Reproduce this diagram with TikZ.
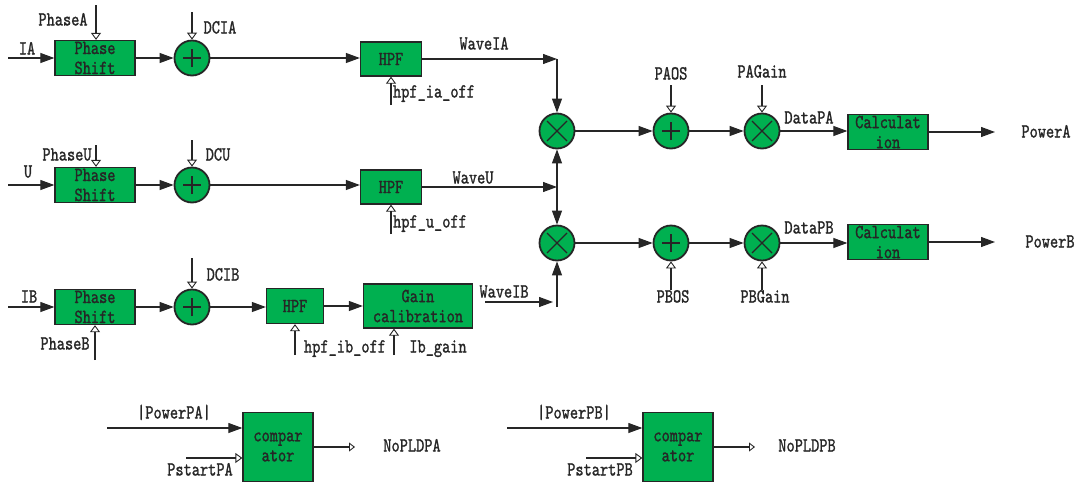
\documentclass[tikz,border=0pt]{standalone}
\usepackage{fontspec}
\newfontfamily\diagramfont{lmmono10-regular.otf}[FakeStretch=0.78,FakeBold=1.2]
\usepackage{xcolor}
\definecolor{colorBlock}{RGB}{0,176,80}
\colorlet{colorLine}{black!85}
\usetikzlibrary{arrows.meta, positioning}
\tikzset{
  block/.style={draw, line width=1.3pt, fill=colorBlock, inner sep=0pt, align=center},
  sum/.style={circle, draw, line width=1.8pt, fill=colorBlock, minimum size=35pt, inner sep=0pt,
    path picture={\draw[line width=1.6pt] ([xshift=-9pt]path picture bounding box.center) -- ([xshift=9pt]path picture bounding box.center) ([yshift=-9pt]path picture bounding box.center) -- ([yshift=9pt]path picture bounding box.center);}},
  mult/.style={circle, draw, line width=1.8pt, fill=colorBlock, minimum size=35pt, inner sep=0pt,
    path picture={\draw[line width=1.3pt] ([shift={(-10pt,-10pt)}]path picture bounding box.center) -- ([shift={(10pt,10pt)}]path picture bounding box.center) ([shift={(-10pt,10pt)}]path picture bounding box.center) -- ([shift={(10pt,-10pt)}]path picture bounding box.center);}},
  lbl/.style={inner sep=0pt, text height=11pt, text depth=0pt},
  openarrow/.style={-{Triangle[open, length=7pt, width=10pt, line width=0.9pt]}}
}

\begin{document}
\begin{tikzpicture}[x=1pt, y=-1pt, color=colorLine, line width=1.1pt, font=\diagramfont\fontsize{20}{20}\selectfont, >={Triangle[length=14pt, width=10pt]}]
\useasboundingbox (0,0) rectangle (1079,485);
\node[block, minimum width=80pt, minimum height=35pt] (psA) at (95,58) {Phase\\Shift};
\node[block, minimum width=80pt, minimum height=35pt] (psU) at (95,185) {Phase\\Shift};
\node[block, minimum width=80pt, minimum height=35pt] (psB) at (95,307) {Phase\\Shift};
\node[sum] (sumA) at (192,58) {};
\node[sum] (sumU) at (192,185) {};
\node[sum] (sumB) at (192,307) {};
\node[block, minimum width=61pt, minimum height=34pt] (hpfA) at (391,59) {HPF};
\node[block, minimum width=61pt, minimum height=34pt] (hpfU) at (391,187) {HPF};
\node[block, minimum width=57pt, minimum height=35pt] (hpfB) at (295,306) {HPF};
\node[block, minimum width=109pt, minimum height=44pt] (gainB) at (418,306) {Gain\\calibration};
\node[mult] (mulA) at (557,131) {};
\node[mult] (mulB) at (557,243) {};
\node[sum] (sumPA) at (671,131) {};
\node[sum] (sumPB) at (671,243) {};
\node[mult] (mulPA) at (762,131) {};
\node[mult] (mulPB) at (762,243) {};
\node[block, minimum width=80pt, minimum height=35pt] (calcA) at (888,132) {Calculat\\ion};
\node[block, minimum width=80pt, minimum height=35pt] (calcB) at (888,242) {Calculat\\ion};
\node[block, minimum width=70pt, minimum height=69pt] (compA) at (278,447) {compar\\ator};
\node[block, minimum width=70pt, minimum height=69pt] (compB) at (678,447) {compar\\ator};
\coordinate (inIA) at (8,58);
\coordinate (inU) at (8,185);
\coordinate (inIB) at (8,307);
\coordinate (srcPhaseA) at (96,5);
\coordinate (srcPhaseU) at (96,145);
\coordinate (srcPhaseB) at (95,360);
\coordinate (srcDCIA) at (192,12);
\coordinate (srcDCU) at (192,140);
\coordinate (srcDCIB) at (192,258);
\coordinate (srcHpfA) at (391,105);
\coordinate (srcHpfU) at (391,234);
\coordinate (srcHpfB) at (295,355);
\coordinate (srcIbGain) at (394,355);
\coordinate (cornerA) at (557,59);
\coordinate (joinU) at (557,187);
\coordinate (srcWaveIB) at (485,302);
\coordinate (endWaveIB) at (553,302);
\coordinate (footB) at (557,307);
\coordinate (srcPAOS) at (671,85);
\coordinate (srcPAGain) at (762,85);
\coordinate (srcPBOS) at (671,290);
\coordinate (srcPBGain) at (762,290);
\coordinate (outA) at (995,132);
\coordinate (outB) at (995,242);
\coordinate (srcPowPA) at (107,428);
\coordinate (srcStartPA) at (186,458);
\coordinate (outNoA) at (355,447);
\coordinate (srcPowPB) at (507,428);
\coordinate (srcStartPB) at (586,458);
\coordinate (outNoB) at (755,447);
\node[lbl] (tIA) at (27,49) {IA};
\node[lbl] (tU) at (28,172) {U};
\node[lbl] (tIB) at (29,297) {IB};
\node[lbl] (tPhaseA) at (63,20) {PhaseA};
\node[lbl] (tPhaseU) at (67,155) {PhaseU};
\node[lbl] (tPhaseB) at (65,344) {PhaseB};
\node[lbl] (tDCIA) at (220,28) {DCIA};
\node[lbl] (tDCU) at (218,155) {DCU};
\node[lbl] (tDCIB) at (223,275) {DCIB};
\node[lbl] (tHpfA) at (434,92) {hpf\_ia\_off};
\node[lbl] (tHpfU) at (430,222) {hpf\_u\_off};
\node[lbl] (tHpfB) at (345,347) {hpf\_ib\_off};
\node[lbl] (tIbGain) at (438,347) {Ib\_gain};
\node[lbl] (tWaveIA) at (484,44) {WaveIA};
\node[lbl] (tWaveU) at (473,178) {WaveU};
\node[lbl] (tWaveIB) at (504,292) {WaveIB};
\node[lbl] (tPAOS) at (671,74) {PAOS};
\node[lbl] (tPAGain) at (762,72) {PAGain};
\node[lbl] (tPBOS) at (673,297) {PBOS};
\node[lbl] (tPBGain) at (765,297) {PBGain};
\node[lbl] (tDataPA) at (809,118) {DataPA};
\node[lbl] (tDataPB) at (809,228) {DataPB};
\node[lbl] (tPowerA) at (1046,132) {PowerA};
\node[lbl] (tPowerB) at (1050,242) {PowerB};
\node[lbl] (tPowPA) at (174,413) {|PowerPA|};
\node[lbl] (tStartPA) at (200,470) {PstartPA};
\node[lbl] (tNoA) at (412,446) {NoPLDPA};
\node[lbl] (tPowPB) at (574,413) {|PowerPB|};
\node[lbl] (tStartPB) at (600,470) {PstartPB};
\node[lbl] (tNoB) at (807,446) {NoPLDPB};
\draw[->] (inIA) -- (psA);
\draw[->] (inU) -- (psU);
\draw[->] (inIB) -- (psB);
\draw[->] (psA) -- (sumA);
\draw[->] (psU) -- (sumU);
\draw[->] (psB) -- (sumB);
\draw[->] (sumA) -- (sumA -| hpfA.west);
\draw[->] (sumU) -- (sumU -| hpfU.west);
\draw[->] (sumB) -- (sumB -| hpfB.west);
\draw[->] (hpfB) -- (gainB);
\draw[openarrow] (srcPhaseA) -- (srcPhaseA |- psA.north);
\draw[openarrow] (srcPhaseU) -- (srcPhaseU |- psU.north);
\draw[openarrow] (srcPhaseB) -- (srcPhaseB |- psB.south);
\draw[openarrow] (srcDCIA) -- (sumA);
\draw[openarrow] (srcDCU) -- (sumU);
\draw[openarrow] (srcDCIB) -- (sumB);
\draw[openarrow] (srcHpfA) -- (hpfA);
\draw[openarrow] (srcHpfU) -- (hpfU);
\draw[openarrow] (srcHpfB) -- (hpfB);
\draw[openarrow] (srcIbGain) -- (srcIbGain |- gainB.south);
\draw[->] (hpfA) -- (cornerA);
\draw[->] (cornerA) -- (mulA);
\draw[->] (hpfU) -- (joinU);
\draw[->] (joinU) -- (mulA);
\draw[->] (joinU) -- (mulB);
\draw[->] (srcWaveIB) -- (endWaveIB);
\draw[->] (footB) -- (mulB);
\draw[->] (mulA) -- (sumPA);
\draw[->] (sumPA) -- (mulPA);
\draw[->] (mulPA) -- (mulPA -| calcA.west);
\draw[->] (calcA) -- (outA);
\draw[->] (mulB) -- (sumPB);
\draw[->] (sumPB) -- (mulPB);
\draw[->] (mulPB) -- (mulPB -| calcB.west);
\draw[->] (calcB) -- (outB);
\draw[openarrow] (srcPAOS) -- (sumPA);
\draw[openarrow] (srcPAGain) -- (mulPA);
\draw[openarrow] (srcPBOS) -- (sumPB);
\draw[openarrow] (srcPBGain) -- (mulPB);
\draw[->] (srcPowPA) -- (srcPowPA -| compA.west);
\draw[openarrow] (srcStartPA) -- (srcStartPA -| compA.west);
\draw[-{Triangle[open, length=6pt, width=9pt, line width=0.9pt]}] (compA) -- (outNoA);
\draw[->] (srcPowPB) -- (srcPowPB -| compB.west);
\draw[openarrow] (srcStartPB) -- (srcStartPB -| compB.west);
\draw[-{Triangle[open, length=6pt, width=9pt, line width=0.9pt]}] (compB) -- (outNoB);
\end{tikzpicture}
\end{document}
